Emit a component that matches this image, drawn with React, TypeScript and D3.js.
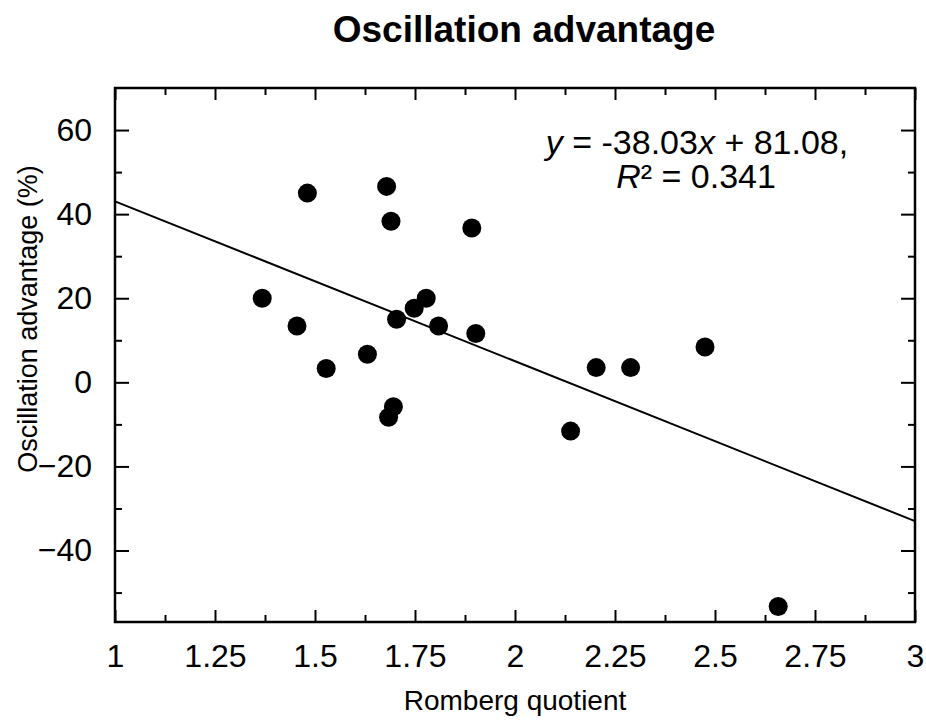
import React, { useEffect, useRef } from 'react';
import * as d3 from 'd3';

// Romberg quotient vs oscillation advantage (%)
const romberg = [1.368, 1.455, 1.481, 1.528, 1.631, 1.679, 1.69, 1.684, 1.696, 1.704, 1.748, 1.778, 1.809, 1.892, 1.902, 2.139, 2.203, 2.289, 2.475, 2.658];
const advantage = [20.0, 13.4, 45.0, 3.3, 6.7, 46.6, 38.3, -8.3, -5.8, 15.0, 17.6, 20.0, 13.4, 36.7, 11.6, -11.6, 3.5, 3.5, 8.4, -53.3];

const slope = -38.03;
const intercept = 81.08;

const xTicks = [1, 1.25, 1.5, 1.75, 2, 2.25, 2.5, 2.75, 3];
const yTicks = [-40, -20, 0, 20, 40, 60];

export default function App() {
  const ref = useRef<SVGSVGElement>(null);

  useEffect(() => {
    const svg = d3.select(ref.current);
    svg.selectAll('*').remove();

    const w = 926, h = 725;
    const left = 115, right = 915, top = 88, bottom = 622;
    const font = 'Liberation Sans, Arial, Helvetica, sans-serif';

    const x = d3.scaleLinear().domain([1, 3]).range([left, right]);
    const y = d3.scaleLinear().domain([-57, 70]).range([bottom, top]);

    svg.attr('width', w).attr('height', h).style('font-family', font);

    const xMinor = d3.range(1.125, 3, 0.25);
    const yMinor = d3.range(-50, 70, 20);

    // ticks pointing inward on every side
    const axes = [
      { axis: d3.axisBottom(x), t: `translate(0,${bottom})`, major: xTicks, minor: xMinor, lab: true },
      { axis: d3.axisTop(x), t: `translate(0,${top})`, major: xTicks, minor: xMinor, lab: false },
      { axis: d3.axisLeft(y), t: `translate(${left},0)`, major: yTicks, minor: yMinor, lab: true },
      { axis: d3.axisRight(y), t: `translate(${right},0)`, major: yTicks, minor: yMinor, lab: false },
    ];
    axes.forEach((a, i) => {
      const isX = i < 2;
      const g = svg.append('g').attr('transform', a.t)
        .call(a.axis.tickValues(a.major).tickSizeInner(isX ? -12 : -14).tickSizeOuter(0).tickPadding(isX ? 22 : 23)
          .tickFormat((d: any) => a.lab ? (isX ? String(d) : d3.format('d')(d)) : ''));
      g.select('.domain').remove();
      g.selectAll('line').attr('stroke', '#000').attr('stroke-width', 2);
      g.selectAll('text').attr('font-size', 32).attr('fill', '#000').style('font-family', font);
      const m = svg.append('g').attr('transform', a.t)
        .call(a.axis.tickValues(a.minor).tickSizeInner(-7).tickFormat(() => ''));
      m.select('.domain').remove();
      m.selectAll('line').attr('stroke', '#000').attr('stroke-width', 2);
    });

    svg.append('rect')
      .attr('x', left).attr('y', top)
      .attr('width', right - left).attr('height', bottom - top)
      .attr('fill', 'none').attr('stroke', '#000').attr('stroke-width', 2.5);

    // regression line
    svg.append('line')
      .attr('x1', x(1)).attr('y1', y(slope * 1 + intercept))
      .attr('x2', x(3)).attr('y2', y(slope * 3 + intercept))
      .attr('stroke', '#000').attr('stroke-width', 2);

    svg.append('g').selectAll('circle')
      .data(romberg.map((r, i) => [r, advantage[i]]))
      .enter().append('circle')
      .attr('cx', d => x(d[0])).attr('cy', d => y(d[1]))
      .attr('r', 9.5).attr('fill', '#000');

    // annotation
    const t1 = svg.append('text').attr('x', 697).attr('y', 154).attr('text-anchor', 'middle').attr('font-size', 34);
    t1.append('tspan').attr('font-style', 'italic').text('y');
    t1.append('tspan').text(' = -38.03');
    t1.append('tspan').attr('font-style', 'italic').text('x');
    t1.append('tspan').text(' + 81.08,');
    const t2 = svg.append('text').attr('x', 696).attr('y', 188).attr('text-anchor', 'middle').attr('font-size', 34);
    t2.append('tspan').attr('font-style', 'italic').text('R');
    t2.append('tspan').text('² = 0.341');

    svg.append('text').attr('x', 524).attr('y', 42).attr('text-anchor', 'middle')
      .attr('font-size', 37).attr('font-weight', 'bold').text('Oscillation advantage');

    svg.append('text').attr('x', 515).attr('y', 710).attr('text-anchor', 'middle')
      .attr('font-size', 28).text('Romberg quotient');

    svg.append('text').attr('transform', 'translate(37,319) rotate(-90)').attr('text-anchor', 'middle')
      .attr('font-size', 27).text('Oscillation advantage (%)');
  }, []);

  return <svg ref={ref} style={{ position: 'absolute', left: 0, top: 0 }} />;
}
